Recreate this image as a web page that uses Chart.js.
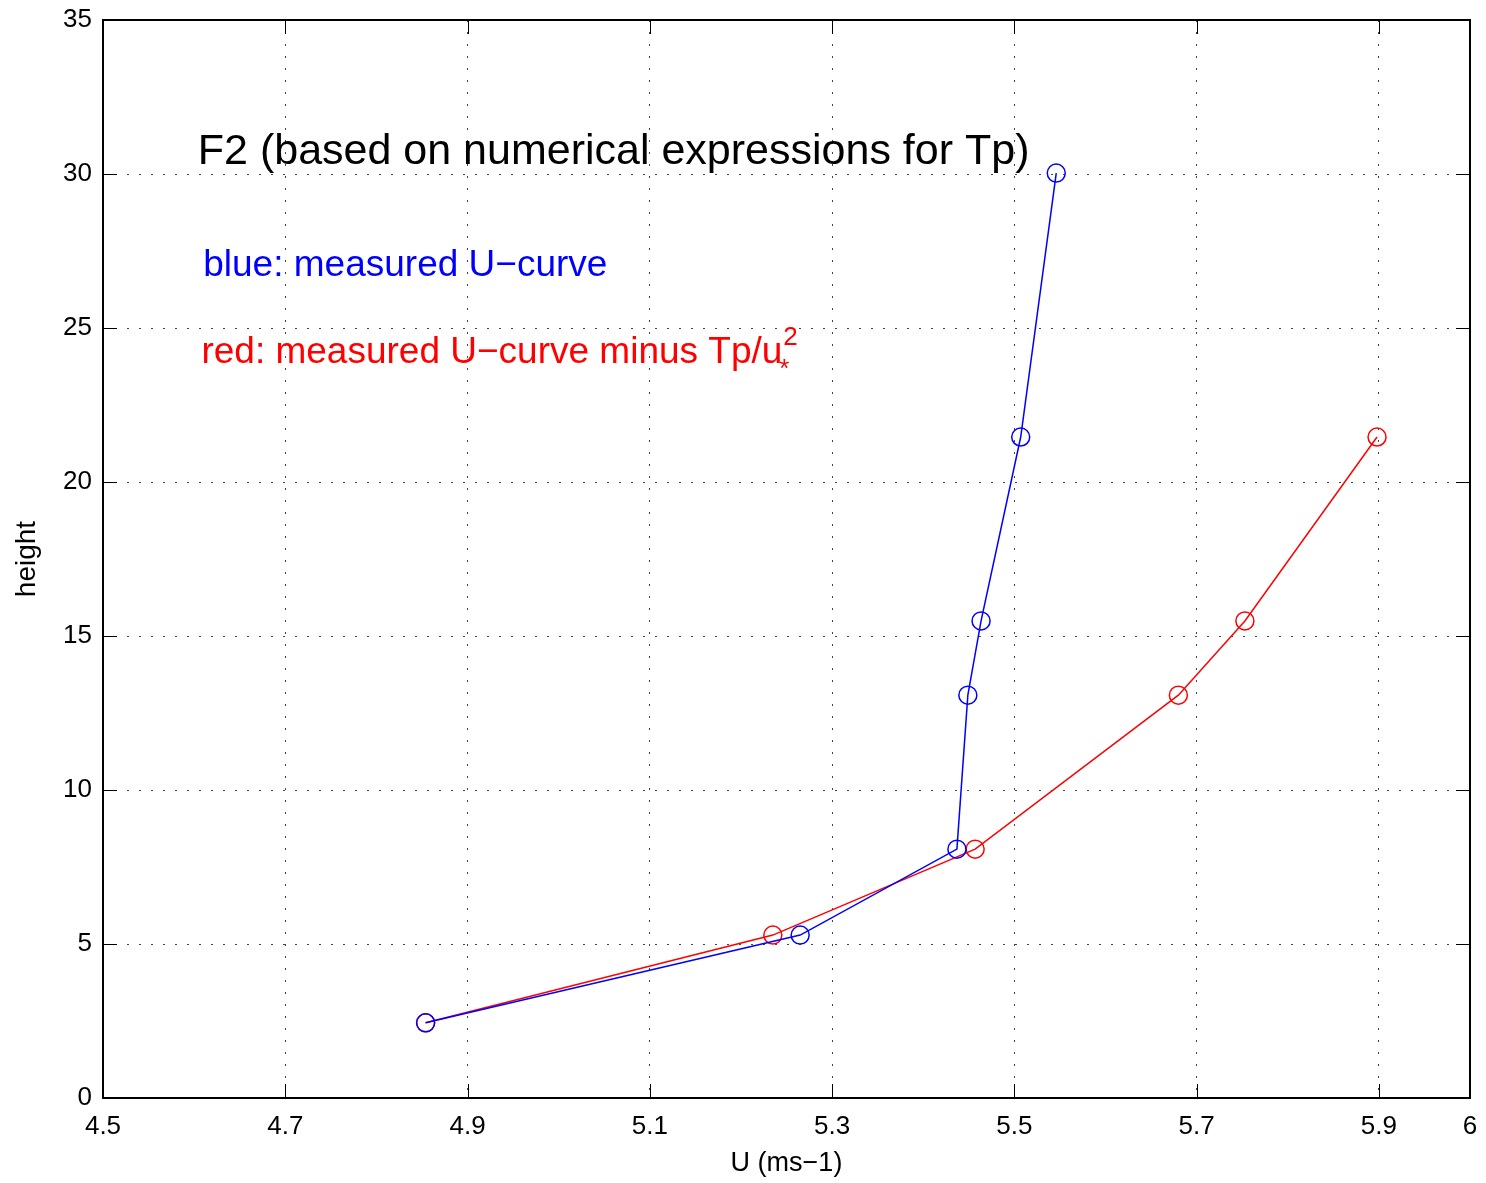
<!DOCTYPE html>
<html>
<head>
<meta charset="utf-8">
<script src="https://cdn.jsdelivr.net/npm/chart.js@4.4.1/dist/chart.umd.min.js"></script>
<style>
html,body{margin:0;padding:0;background:#fff;}
#wrap{width:1486px;height:1183px;position:relative;}
</style>
</head>
<body>
<div id="wrap"><canvas id="c" width="1486" height="1183"></canvas></div>
<script>
// Data
const blueU = [4.854, 5.265, 5.437, 5.449, 5.4635, 5.507, 5.546];
const blueH = [2.44, 5.29, 8.08, 13.08, 15.49, 21.46, 30.03];
const redU = [4.854, 5.235, 5.457, 5.680, 5.753, 5.898];
const redH = [2.44, 5.29, 8.08, 13.08, 15.49, 21.46];
const xTicks = [4.5, 4.7, 4.9, 5.1, 5.3, 5.5, 5.7, 5.9, 6];
const yTicks = [0, 5, 10, 15, 20, 25, 30, 35];
const titleText = "F2 (based on numerical expressions for Tp)";
const blueText = "blue: measured U\u2212curve";
const redText = "red: measured U\u2212curve minus Tp/u";
const xLabel = "U (ms\u22121)";
const yLabel = "height";

const FONT = "'Liberation Sans', Arial, Helvetica, sans-serif";

function pts(xs, ys){ return xs.map((x,i)=>({x:x, y:ys[i]})); }

const boxPlugin = {
  id: 'box',
  afterDatasetsDraw(chart){
    const ctx = chart.ctx, a = chart.chartArea;
    const xs = chart.scales.x, ys = chart.scales.y;
    ctx.save();
    ctx.strokeStyle = '#000';
    ctx.lineWidth = 1;
    const tl = 14;
    xTicks.forEach(v=>{
      const px = Math.round(xs.getPixelForValue(v))+0.5;
      ctx.beginPath();
      ctx.moveTo(px, a.bottom); ctx.lineTo(px, a.bottom - tl);
      ctx.moveTo(px, a.top); ctx.lineTo(px, a.top + tl);
      ctx.stroke();
    });
    yTicks.forEach(v=>{
      const py = Math.round(ys.getPixelForValue(v))+0.5;
      ctx.beginPath();
      ctx.moveTo(a.left, py); ctx.lineTo(a.left + tl, py);
      ctx.moveTo(a.right, py); ctx.lineTo(a.right - tl, py);
      ctx.stroke();
    });
    ctx.lineWidth = 2;
    ctx.strokeRect(a.left, a.top, a.right - a.left, a.bottom - a.top);
    ctx.restore();
  },
  afterDraw(chart){
    const ctx = chart.ctx;
    const xs = chart.scales.x, ys = chart.scales.y;
    ctx.save();
    ctx.textBaseline = 'middle';
    ctx.textAlign = 'left';
    ctx.fillStyle = '#000';
    ctx.font = '43px ' + FONT;
    ctx.fillText(titleText, xs.getPixelForValue(4.604), ys.getPixelForValue(30.7));
    ctx.fillStyle = '#0000ff';
    ctx.font = '37px ' + FONT;
    ctx.fillText(blueText, xs.getPixelForValue(4.61), ys.getPixelForValue(27.03));
    ctx.fillStyle = '#ff0000';
    const rx = xs.getPixelForValue(4.608), ry = ys.getPixelForValue(24.2);
    ctx.fillText(redText, rx, ry);
    const w = ctx.measureText(redText).width;
    ctx.font = '26px ' + FONT;
    ctx.fillText('2', rx + w + 1, ry - 15);
    ctx.fillText('*', rx + w - 3, ry + 17);
    ctx.restore();
  }
};

new Chart(document.getElementById('c'), {
  type: 'scatter',
  data: {
    datasets: [
      {
        label: 'blue', data: pts(blueU, blueH), showLine: true,
        borderColor: '#0000ff', backgroundColor: 'rgba(0,0,0,0)',
        borderWidth: 1.5, pointRadius: 9, pointHoverRadius: 9,
        pointBorderWidth: 1.5, pointBorderColor: '#0000ff', pointBackgroundColor: 'rgba(0,0,0,0)'
      },
      {
        label: 'red', data: pts(redU, redH), showLine: true,
        borderColor: '#ff0000', backgroundColor: 'rgba(0,0,0,0)',
        borderWidth: 1.5, pointRadius: 9, pointHoverRadius: 9,
        pointBorderWidth: 1.5, pointBorderColor: '#ff0000', pointBackgroundColor: 'rgba(0,0,0,0)'
      }
    ]
  },
  options: {
    responsive: false,
    animation: false,
    devicePixelRatio: 1,
    layout: { padding: { top: 20, right: 16, left: 0, bottom: 0 } },
    plugins: { legend: { display: false }, tooltip: { enabled: false } },
    scales: {
      x: {
        type: 'linear', min: 4.5, max: 6,
        afterBuildTicks(scale){ scale.ticks = xTicks.map(v=>({value:v})); },
        afterFit(scale){ scale.height = 85; scale.paddingLeft = 0; scale.paddingRight = 0; },
        ticks: { color: '#000', font: { family: FONT, size: 26 }, padding: 13, maxRotation: 0, autoSkip: false,
          callback: v => String(v) },
        grid: { drawTicks: false, lineWidth: 1,
          color: c => (c.tick && (c.tick.value === 4.5 || c.tick.value === 6)) ? 'rgba(0,0,0,0)' : '#444' },
        border: { display: false, dash: [2, 10] },
        title: { display: true, text: xLabel, color: '#000', font: { family: FONT, size: 27 }, padding: { top: 0, bottom: 3 } }
      },
      y: {
        type: 'linear', min: 0, max: 35,
        afterBuildTicks(scale){ scale.ticks = yTicks.map(v=>({value:v})); },
        afterFit(scale){ scale.width = 103; scale.paddingTop = 0; scale.paddingBottom = 0; },
        ticks: { color: '#000', font: { family: FONT, size: 26 }, padding: 11, callback: v => String(v) },
        grid: { drawTicks: false, lineWidth: 1,
          color: c => (c.tick && (c.tick.value === 0 || c.tick.value === 35)) ? 'rgba(0,0,0,0)' : '#444' },
        border: { display: false, dash: [2, 10] },
        title: { display: true, text: yLabel, color: '#000', font: { family: FONT, size: 28 }, padding: { top: 10, bottom: 0 } }
      }
    }
  },
  plugins: [boxPlugin]
});
</script>
</body>
</html>
